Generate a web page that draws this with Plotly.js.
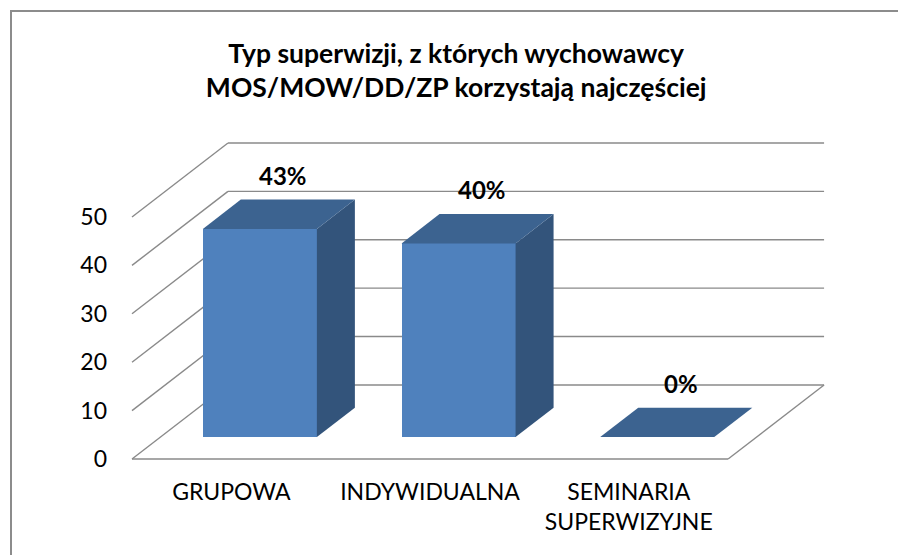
<!DOCTYPE html>
<html>
<head>
<meta charset="utf-8">
<script src="https://cdn.plot.ly/plotly-3.0.1.min.js"></script>
<style>
  html, body { margin:0; padding:0; background:#fff; }
  #wrap { position:relative; width:898px; height:555px; overflow:hidden; }
  #chart { width:898px; height:555px; }
  #frame { position:absolute; left:10px; top:10px; width:1000px; height:700px;
           border-left:2px solid #8c8c8c; border-top:2px solid #8c8c8c; pointer-events:none; }
</style>
</head>
<body>
<div id="wrap"><div id="chart"></div><div id="frame"></div></div>
<script>
// ---- data ----
const categories = ['GRUPOWA', 'INDYWIDUALNA', 'SEMINARIA<br>SUPERWIZYJNE'];
const values = [43, 40, 0];
const valueLabels = ['43%', '40%', '0%'];
const yTickVals = [0, 10, 20, 30, 40, 50];
const chartTitle = 'Typ superwizji, z których wychowawcy<br>MOS/MOW/DD/ZP korzystają najczęściej';

// ---- 3D projection style (oblique depth offset in axis units) ----
const DX = 0.483, DY = 15.3;      // full depth offset
const D0 = 0.297, D1 = 0.693;     // bar front / back depth fraction
const BAR_W = 0.574;
const FRONT = '#4F81BD', TOP = '#3C6390', SIDE = '#33547B';
const GRID = '#8a8a8a';
const FONT = 'Lato, Carlito, Calibri, sans-serif';

const n = categories.length;
const centers = categories.map((c, i) => i + 0.5);

const traces = [];
// front faces as real bars
traces.push({
  type: 'bar',
  x: centers.map(c => c + D0 * DX),
  y: values,
  base: values.map(() => D0 * DY),
  width: BAR_W,
  marker: { color: FRONT, line: { width: 0 } },
  hoverinfo: 'skip',
  showlegend: false
});
// top and side faces
values.forEach((v, i) => {
  const xl = centers[i] - BAR_W / 2 + D0 * DX;
  const xr = centers[i] + BAR_W / 2 + D0 * DX;
  const ddx = (D1 - D0) * DX;
  const yf = v + D0 * DY, yb = v + D1 * DY;
  traces.push({
    type: 'scatter', mode: 'lines', fill: 'toself', fillcolor: SIDE,
    x: [xr, xr, xr + ddx, xr + ddx, xr],
    y: [D0 * DY, yf, yb, D1 * DY, D0 * DY],
    line: { width: 0, color: SIDE }, hoverinfo: 'skip', showlegend: false
  });
  traces.push({
    type: 'scatter', mode: 'lines', fill: 'toself', fillcolor: TOP,
    x: [xl, xr, xr + ddx, xl + ddx, xl],
    y: [yf, yf, yb, yb, yf],
    line: { width: 0, color: TOP }, hoverinfo: 'skip', showlegend: false
  });
});

// gridlines / walls as shapes behind the bars
const shapes = [];
const ln = (x0, y0, x1, y1) => ({ type: 'line', xref: 'x', yref: 'y', layer: 'below',
  x0, y0, x1, y1, line: { color: GRID, width: 1.4 } });
yTickVals.forEach(t => {
  shapes.push(ln(DX, t + DY, n + DX, t + DY));   // back wall
  shapes.push(ln(0, t, DX, t + DY));             // side wall
});
shapes.push(ln(0, 0, n, 0));                      // floor front edge
shapes.push(ln(n, 0, n + DX, DY));                // floor right edge

const annotations = values.map((v, i) => ({
  x: centers[i] + 0.5 * DX + 0.02, y: v + D1 * DY + 5,
  xref: 'x', yref: 'y', text: '<b>' + valueLabels[i] + '</b>', showarrow: false,
  font: { family: FONT, size: 24, color: '#000' }
}));

// pixel mapping: x unit = 198.7 px, front-left corner at px 132; y unit = 4.84 px, zero at px 459
const L = 112, R = 30, T = 120, B = 85, W = 898, H = 555;
const xpx = 198.7, ypx = 4.84;
const xmin = (L - 132) / xpx, xmax = xmin + (W - L - R) / xpx;
const ymin = -(H - B - 459) / ypx, ymax = ymin + (H - T - B) / ypx;

const layout = {
  width: W, height: H,
  margin: { l: L, r: R, t: T, b: B },
  paper_bgcolor: '#fff', plot_bgcolor: 'rgba(0,0,0,0)',
  showlegend: false,
  title: { text: '<b>' + chartTitle + '</b>', x: 0.508, xanchor: 'center',
           y: 1 - 63 / 555, yanchor: 'middle', yref: 'container',
           font: { family: FONT, size: 26.5, color: '#000' } },
  xaxis: { range: [xmin, xmax], showgrid: false, zeroline: false, showline: false,
           tickmode: 'array', tickvals: centers, ticktext: categories, ticks: '',
           tickfont: { family: FONT, size: 23, color: '#000' }, ticklabelstandoff: 6, fixedrange: true },
  yaxis: { range: [ymin, ymax], showgrid: false, zeroline: false, showline: false,
           tickmode: 'array', tickvals: yTickVals, ticktext: yTickVals.map(String), ticks: '',
           tickfont: { family: FONT, size: 23, color: '#000' }, ticklabelstandoff: 4, fixedrange: true },
  shapes: shapes,
  annotations: annotations,
  bargap: 0
};
Plotly.newPlot('chart', traces, layout, { staticPlot: true, displayModeBar: false });
</script>
</body>
</html>
